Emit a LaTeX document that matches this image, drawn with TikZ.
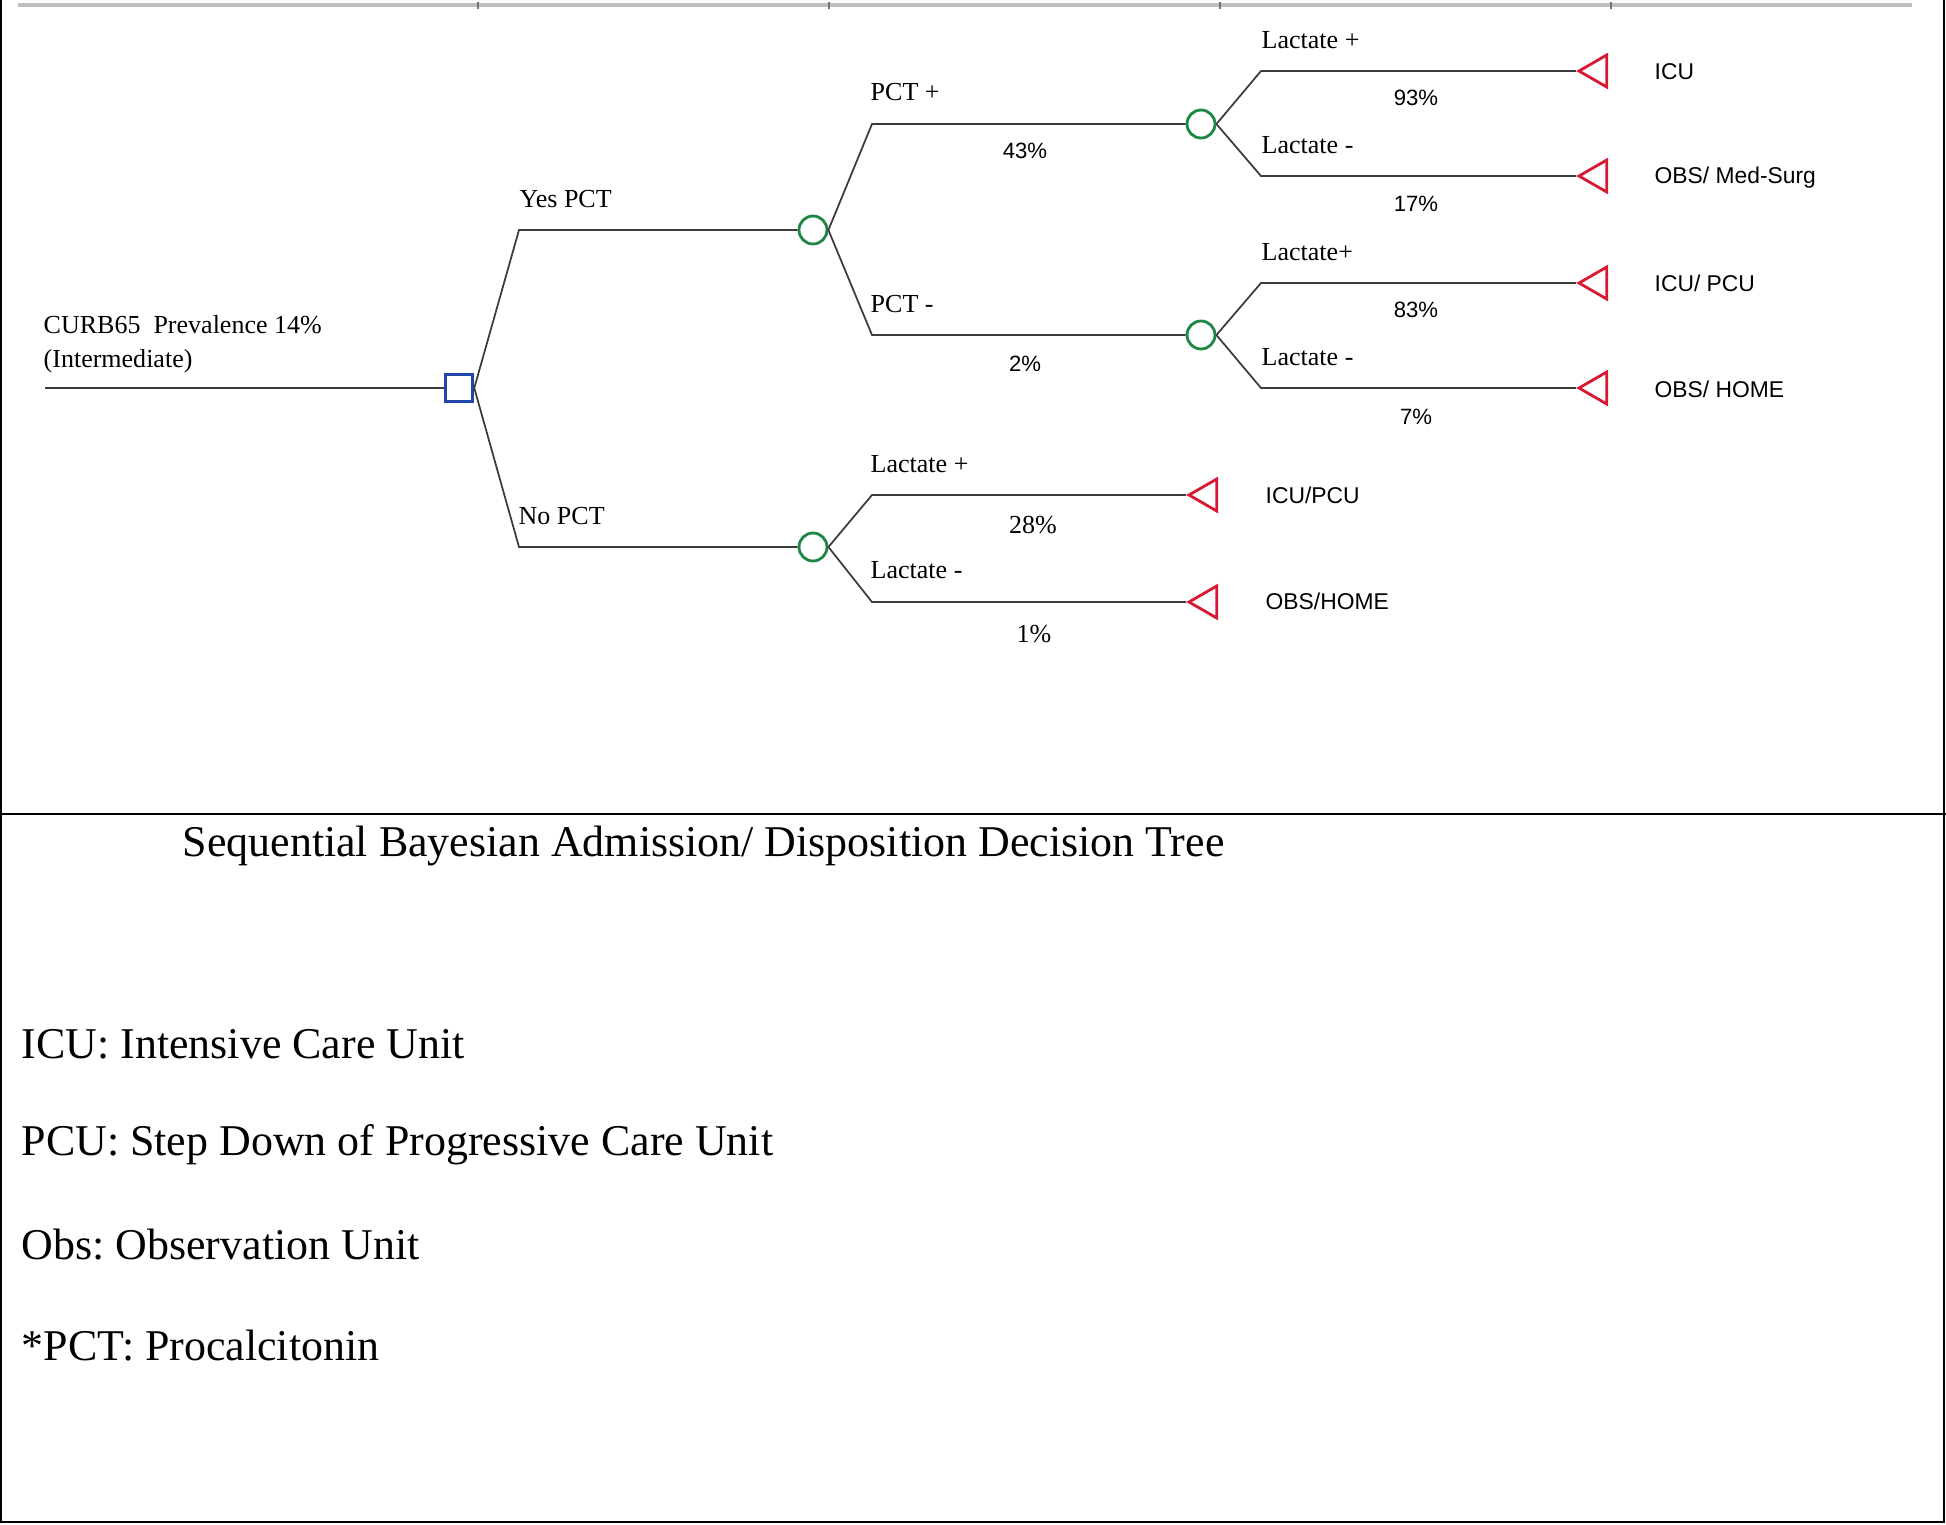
\documentclass[tikz,border=0pt]{standalone}
\usepackage{fontspec}
\setmainfont{Liberation Serif}
\setsansfont{Liberation Sans}
\usepackage{tikz}
\usetikzlibrary{shapes.geometric}
\definecolor{treegreen}{RGB}{30, 135, 70}
\definecolor{treeblue}{RGB}{35, 70, 170}
\definecolor{treered}{RGB}{215, 25, 50}
\definecolor{treegray}{RGB}{60, 60, 60}
\frenchspacing

\begin{document}
\begin{tikzpicture}[
  x=1mm, y=-1mm,
  branch/.style={line width=0.5pt, draw=treegray},
  chance/.style={circle, draw=treegreen, line width=0.8pt, minimum size=2.8mm, inner sep=0pt, fill=white},
  decision/.style={rectangle, draw=treeblue, line width=1pt, minimum size=2.7mm, inner sep=0pt, fill=white},
  terminal/.style={regular polygon, regular polygon sides=3, shape border rotate=90, draw=treered, line width=0.8pt, minimum size=3.7mm, inner sep=0pt},
  lbl/.style={font=\fontsize{7.4}{9.7}\selectfont, anchor=west, inner sep=0pt, align=left},
  prob/.style={font=\sffamily\fontsize{6.3}{8}\selectfont, inner sep=0pt},
  probserif/.style={font=\fontsize{7.4}{9}\selectfont, inner sep=0pt},
  outcome/.style={font=\sffamily\fontsize{6.5}{8}\selectfont, anchor=west, inner sep=0pt},
  legend/.style={font=\fontsize{12.5}{15}\selectfont, anchor=west, inner sep=0pt}
]
\useasboundingbox (0,0) rectangle (194.6,152.4);

% Frame
\draw[line width=0.6pt] (0.1,0) -- (0.1,152.2) -- (194.4,152.2) -- (194.4,0);
\draw[line width=0.6pt] (0,81.4) -- (194.6,81.4);
\draw[line width=0.9pt, black!25] (1.8,0.5) -- (191.2,0.5);
\foreach \tx in {47.8, 82.9, 122.0, 161.1}
  \draw[line width=0.3pt, black!55] (\tx,0.2) -- (\tx,0.9);

% Decision and chance nodes
\coordinate (root) at (4.5,38.8);
\node[decision] (dec) at (45.9,38.8) {};
\node[chance] (yes) at (81.3,23.0) {};
\node[chance] (no) at (81.3,54.7) {};
\node[chance] (pctpos) at (120.1,12.4) {};
\node[chance] (pctneg) at (120.1,33.5) {};

% Terminals
\node[terminal] (icu) at (159.75,7.1) {};
\node[terminal] (obsmed) at (159.75,17.6) {};
\node[terminal] (icupcu) at (159.75,28.3) {};
\node[terminal] (obshome) at (159.75,38.8) {};
\node[terminal] (noicu) at (120.75,49.5) {};
\node[terminal] (noobs) at (120.75,60.2) {};

% Branches
\draw[branch] (root) -- (dec);
\draw[branch] (dec.east) -- (51.9,23.0) -- (yes);
\draw[branch] (dec.east) -- (51.9,54.7) -- (no);
\draw[branch] (yes.east) -- (87.2,12.4) -- (pctpos);
\draw[branch] (yes.east) -- (87.2,33.5) -- (pctneg);
\draw[branch] (pctpos.east) -- (126.1,7.1) -- (icu);
\draw[branch] (pctpos.east) -- (126.1,17.6) -- (obsmed);
\draw[branch] (pctneg.east) -- (126.1,28.3) -- (icupcu);
\draw[branch] (pctneg.east) -- (126.1,38.8) -- (obshome);
\draw[branch] (no.east) -- (87.2,49.5) -- (noicu);
\draw[branch] (no.east) -- (87.2,60.2) -- (noobs);

% Branch labels
\node[lbl] (curb) at (4.3,34.4) {CURB65\ \ Prevalence 14\%\\(Intermediate)};
\node[lbl] (yeslbl) at (51.9,19.9) {Yes PCT};
\node[lbl] (nolbl) at (51.8,51.6) {No PCT};
\node[lbl] (pctposlbl) at (87.0,9.2) {PCT +};
\node[lbl] (pctneglbl) at (87.0,30.4) {PCT -};
\node[prob] (p43) at (102.5,15.1) {43\%};
\node[prob] (p2) at (102.5,36.4) {2\%};
\node[lbl] (lac1) at (126.1,4.0) {Lactate +};
\node[prob] (p93) at (141.6,9.8) {93\%};
\node[lbl] (lac2) at (126.1,14.5) {Lactate -};
\node[prob] (p17) at (141.6,20.4) {17\%};
\node[lbl] (lac3) at (126.1,25.2) {Lactate+};
\node[prob] (p83) at (141.6,31.0) {83\%};
\node[lbl] (lac4) at (126.1,35.7) {Lactate -};
\node[prob] (p7) at (141.6,41.7) {7\%};
\node[lbl] (lac5) at (87.0,46.4) {Lactate +};
\node[probserif] (p28) at (103.3,52.5) {28\%};
\node[lbl] (lac6) at (87.0,57.0) {Lactate -};
\node[probserif] (p1) at (103.4,63.4) {1\%};

% Outcomes
\node[outcome] (icutxt) at (165.4,7.2) {ICU};
\node[outcome] (obsmedtxt) at (165.4,17.8) {OBS/ Med-Surg};
\node[outcome] (icupcutxt) at (165.4,28.3) {ICU/ PCU};
\node[outcome] (obshometxt) at (165.4,38.9) {OBS/ HOME};
\node[outcome] (noicutxt) at (126.5,49.5) {ICU/PCU};
\node[outcome] (noobstxt) at (126.5,60.1) {OBS/HOME};

% Caption and legend
\node[legend] (title) at (18.2,84.6) {Sequential Bayesian Admission/ Disposition Decision Tree};
\node[legend] (leg1) at (2.1,104.4) {ICU: Intensive Care Unit};
\node[legend] (leg2) at (2.1,114.5) {PCU: Step Down of Progressive Care Unit};
\node[legend] (leg3) at (2.1,124.5) {Obs: Observation Unit};
\node[legend] (leg4) at (2.1,134.6) {*PCT: Procalcitonin};
\end{tikzpicture}
\end{document}
